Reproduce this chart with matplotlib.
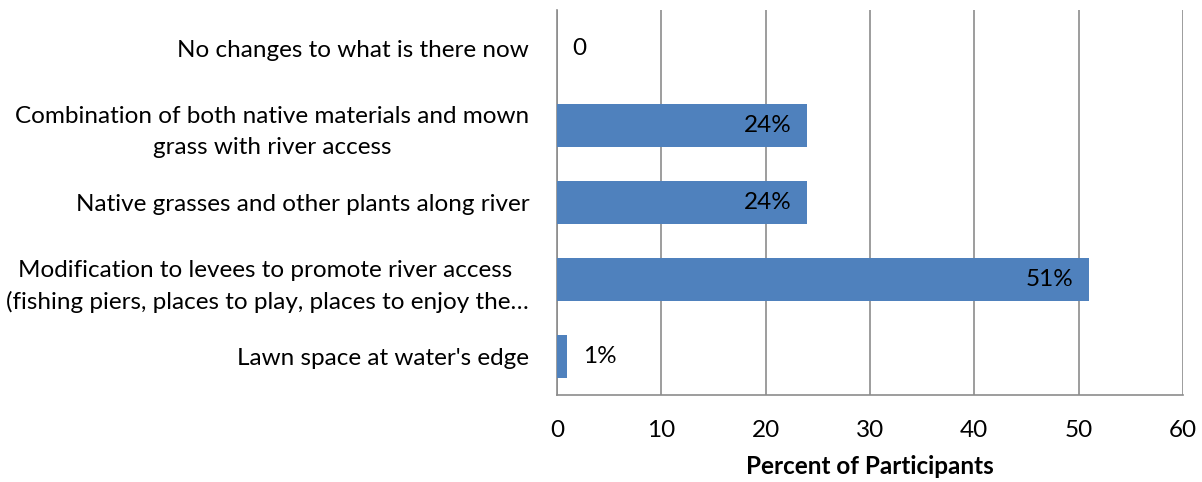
import matplotlib.pyplot as plt

plt.rcParams["font.family"] = ["Lato", "DejaVu Sans"]

# 上から下の順
categories = [
    "No changes to what is there now",
    "Combination of both native materials and mown\ngrass with river access",
    "Native grasses and other plants along river",
    "Modification to levees to promote river access \n(fishing piers, places to play, places to enjoy the…",
    "Lawn space at water's edge",
]
values = [0, 24, 24, 51, 1]
bar_labels = ["0", "24%", "24%", "51%", "1%"]
xticks = [0, 10, 20, 30, 40, 50, 60]

FS = 17.5

fig = plt.figure(figsize=(12.02, 4.82), dpi=100)
ax = fig.add_axes([557 / 1202, 87 / 482, 626 / 1202, 385 / 482])

ypos = list(range(len(categories)))
ax.barh(ypos, values, height=0.57, color="#4F81BD", zorder=3)
ax.set_ylim(len(categories) - 0.5, -0.5)
ax.set_xlim(0, 60)

for y, v, lab in zip(ypos, values, bar_labels):
    if v >= 10:
        ax.text(v - 1.5, y, lab, ha="right", va="center", fontsize=FS, zorder=4)
    else:
        ax.text(v + 1.5, y, lab, ha="left", va="center", fontsize=FS, zorder=4)

ax.set_yticks(ypos)
ax.set_yticklabels(categories, fontsize=FS, linespacing=1.55)
for t in ax.get_yticklabels():
    t.set_multialignment("center")
ax.set_xticks(xticks)
ax.set_xticklabels([str(t) for t in xticks], fontsize=FS)
ax.tick_params(axis="y", length=0, pad=20)
ax.tick_params(axis="x", length=0, pad=18)

ax.grid(axis="x", color="#8c8c8c", linewidth=1.2, zorder=0)
for s in ["top", "right"]:
    ax.spines[s].set_visible(False)
ax.spines["left"].set_color("#8c8c8c")
ax.spines["bottom"].set_color("#8c8c8c")
ax.spines["left"].set_linewidth(1.2)
ax.spines["bottom"].set_linewidth(1.2)

ax.set_xlabel("Percent of Participants", fontsize=FS, fontweight="bold", labelpad=10)

plt.savefig("out.png")
